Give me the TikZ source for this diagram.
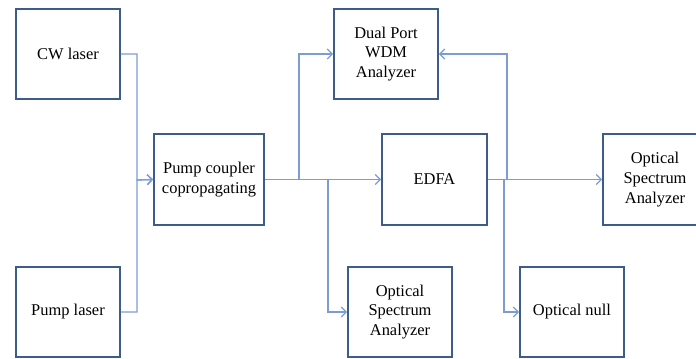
\documentclass[tikz,border=0pt]{standalone}
\usepackage{fontspec}
\setmainfont{Liberation Serif}
\usetikzlibrary{shapes,arrows,arrows.meta}
\definecolor{boxblue}{HTML}{3D5C87}
\definecolor{lineblue}{HTML}{7C9DD3}
\tikzstyle{block} = [draw=boxblue, line width=1.7bp, minimum width=104bp, minimum height=90bp, align=center, inner sep=0pt, font=\fontsize{16.5}{20}\selectfont]
\tikzstyle{link} = [draw=lineblue, line width=1.3bp, -{Straight Barb[length=5bp,width=10bp]}]

\begin{document}
\begin{tikzpicture}[x=1bp, y=-1bp]
\useasboundingbox (0,0) rectangle (696,358);
\clip (0,0) rectangle (696,358);
% sources
\node[block] (cw) at (68,54) {CW laser};
\node[block] (pump) at (68,312) {Pump laser};
\node[block, minimum width=110bp, minimum height=91bp] (coupler) at (209,179.5) {Pump coupler\\copropagating};
% amplifier and analyzers
\node[block] (wdm) at (386,54) {Dual Port\\WDM\\Analyzer};
\node[block, minimum width=105bp, minimum height=91bp] (edfa) at (434.5,179.5) {EDFA};
\node[block, minimum height=91bp] (osaout) at (655,179.5) {Optical\\Spectrum\\Analyzer};
\node[block] (osain) at (400,312) {Optical\\Spectrum\\Analyzer};
\node[block] (null) at (572,312) {Optical null};
% junctions
\coordinate (join) at (137,180);
\coordinate (tapwdm) at (299,180);
\coordinate (taposa) at (328,180);
\coordinate (backwdm) at (507,180);
\coordinate (tapnull) at (504,180);
% fibres
\draw[link] (cw.east) -| (join) -- (coupler.west);
\draw[link] (pump.east) -| (join) -- (coupler.west);
\draw[link] (coupler.east) -- (edfa.west);
\draw[link] (tapwdm) |- (wdm.west);
\draw[link] (taposa) |- (osain.west);
\draw[link] (edfa.east) -- (osaout.west);
\draw[link] (backwdm) |- (wdm.east);
\draw[link] (tapnull) |- (null.west);
\end{tikzpicture}
\end{document}
